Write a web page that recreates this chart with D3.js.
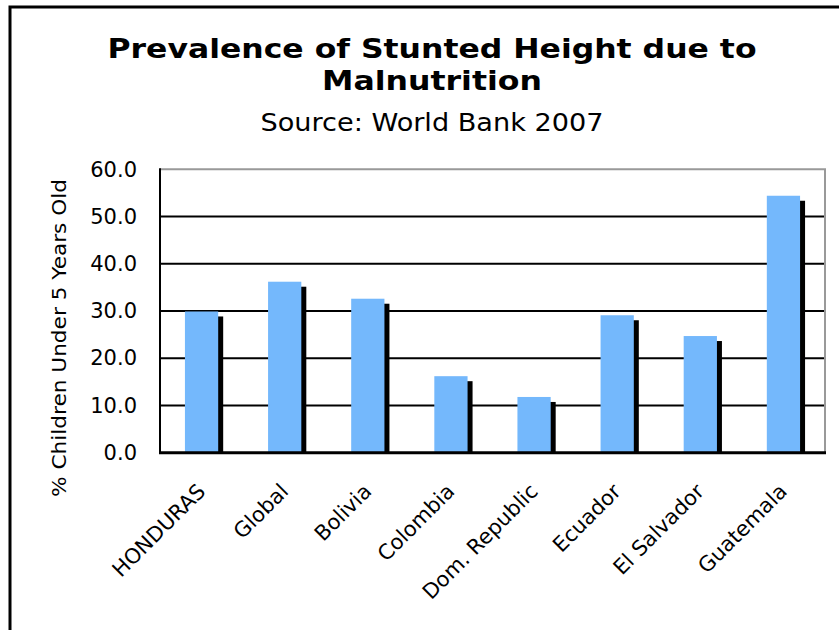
<!DOCTYPE html>
<html>
<head>
<meta charset="utf-8">
<script src="https://cdn.jsdelivr.net/npm/d3@7"></script>
<style>
  html, body { margin: 0; padding: 0; background: #fff; }
  svg { display: block; }
  text { font-family: "DejaVu Sans", Verdana, sans-serif; fill: #000; }
</style>
</head>
<body>
<svg id="chart" width="839" height="630"></svg>
<script>
// ---- data ----
const categories = ["HONDURAS", "Global", "Bolivia", "Colombia", "Dom. Republic", "Ecuador", "El Salvador", "Guatemala"];
const values = [29.9, 36.2, 32.6, 16.2, 11.8, 29.1, 24.7, 54.4];
const yTicks = [0, 10, 20, 30, 40, 50, 60];
const titleLines = ["Prevalence of Stunted Height due to", "Malnutrition"];
const subtitle = "Source: World Bank 2007";
const yTitle = "% Children Under 5 Years Old";

// ---- layout ----
const svg = d3.select("#chart");
const plot = { left: 160, right: 825, top: 169.3, bottom: 452.7 };

svg.append("rect").attr("x", 0).attr("y", 0).attr("width", 839).attr("height", 630).attr("fill", "#fff");
// outer frame (extends beyond the picture on right/bottom)
svg.append("rect").attr("x", 10).attr("y", 7).attr("width", 900).attr("height", 700)
  .attr("fill", "none").attr("stroke", "#000").attr("stroke-width", 3);

const x = d3.scaleBand().domain(categories).range([plot.left, plot.right])
  .paddingInner(0.6).paddingOuter(0.3);
const y = d3.scaleLinear().domain([0, 60]).range([plot.bottom, plot.top]);

// titles
svg.append("text").attr("x", 432).attr("y", 57.5).attr("text-anchor", "middle")
  .attr("font-size", 27).attr("font-weight", "bold")
  .attr("textLength", 649).attr("lengthAdjust", "spacingAndGlyphs")
  .text(titleLines[0]);
svg.append("text").attr("x", 432).attr("y", 89.5).attr("text-anchor", "middle")
  .attr("font-size", 27).attr("font-weight", "bold")
  .attr("textLength", 220).attr("lengthAdjust", "spacingAndGlyphs")
  .text(titleLines[1]);
svg.append("text").attr("x", 432).attr("y", 131).attr("text-anchor", "middle")
  .attr("font-size", 24)
  .attr("textLength", 343).attr("lengthAdjust", "spacingAndGlyphs")
  .text(subtitle);

// gridlines
const grid = svg.append("g");
grid.selectAll("line.g").data(yTicks.filter(t => t > 0 && t < 60)).join("line")
  .attr("x1", plot.left).attr("x2", plot.right)
  .attr("y1", d => y(d)).attr("y2", d => y(d))
  .attr("stroke", "#000").attr("stroke-width", 2);
// top and right border (gray)
svg.append("line").attr("x1", plot.left).attr("x2", plot.right + 1)
  .attr("y1", y(60)).attr("y2", y(60)).attr("stroke", "#999").attr("stroke-width", 2);
svg.append("line").attr("x1", plot.right).attr("x2", plot.right)
  .attr("y1", y(60)).attr("y2", y(0)).attr("stroke", "#999").attr("stroke-width", 2);

// bars with shadows
const off = 5;
const bars = svg.append("g");
bars.selectAll("rect.shadow").data(values).join("rect")
  .attr("class", "shadow")
  .attr("x", (d, i) => x(categories[i]) + off)
  .attr("y", d => y(d) + off)
  .attr("width", x.bandwidth())
  .attr("height", d => Math.max(0, y(0) - y(d) - off))
  .attr("fill", "#000");
bars.selectAll("rect.bar").data(values).join("rect")
  .attr("class", "bar")
  .attr("x", (d, i) => x(categories[i]))
  .attr("y", d => y(d))
  .attr("width", x.bandwidth())
  .attr("height", d => y(0) - y(d))
  .attr("fill", "#74b8fc");

// axes lines
svg.append("line").attr("x1", plot.left).attr("x2", plot.left)
  .attr("y1", y(60) - 1).attr("y2", y(0) + 1).attr("stroke", "#000").attr("stroke-width", 2);
svg.append("line").attr("x1", plot.left - 1).attr("x2", plot.right + 1)
  .attr("y1", y(0)).attr("y2", y(0)).attr("stroke", "#000").attr("stroke-width", 3);

// y axis labels
const yAxis = svg.append("g").attr("transform", `translate(${plot.left},0)`)
  .call(d3.axisLeft(y).tickValues(yTicks).tickFormat(d3.format(".1f")).tickSize(0).tickPadding(23));
yAxis.select(".domain").remove();
yAxis.selectAll("text").attr("font-size", 21).attr("font-family", "DejaVu Sans").attr("fill", "#000");

// x axis labels
const xAxis = svg.append("g").attr("transform", `translate(0,${plot.bottom})`)
  .call(d3.axisBottom(x).tickSize(0));
xAxis.select(".domain").remove();
xAxis.selectAll("text")
  .attr("font-size", 21).attr("font-family", "DejaVu Sans").attr("fill", "#000")
  .attr("x", 0).attr("y", 0).attr("dy", 0)
  .attr("text-anchor", "end")
  .attr("transform", "translate(5,40) rotate(-45)");

// y title
svg.append("text")
  .attr("transform", "translate(66,338) rotate(-90)")
  .attr("text-anchor", "middle")
  .attr("font-size", 19)
  .attr("textLength", 318).attr("lengthAdjust", "spacingAndGlyphs")
  .text(yTitle);
</script>
</body>
</html>
